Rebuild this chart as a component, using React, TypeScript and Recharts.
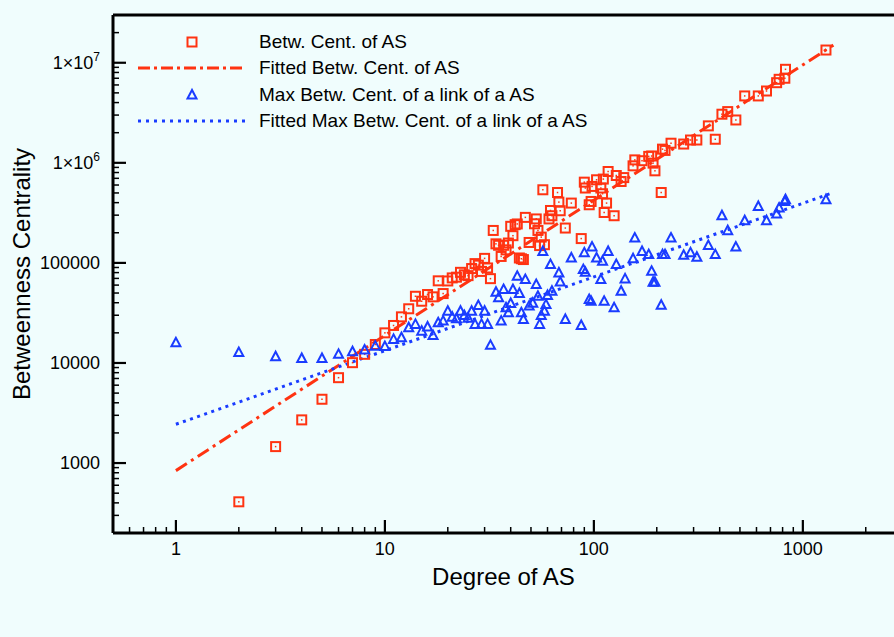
import { ScatterChart, Scatter, XAxis, YAxis, ReferenceLine, Legend } from 'recharts';

// Betweenness centrality of AS vs degree
const asDegree = [
  2, 3, 4, 5, 6, 7, 8, 9, 10, 11, 12, 13, 14, 15, 16, 17, 18, 19, 20, 21, 22, 23, 24, 25, 26, 27, 28, 29, 30,
  31, 32, 33, 34, 35, 36, 37, 38, 39, 40, 41, 42, 43, 44, 45, 46, 47, 49, 52, 53, 54, 55, 56, 57, 58, 61, 62,
  63, 67, 68, 69, 73, 78, 87, 90, 91, 95, 97, 98, 103, 108, 110, 111, 112, 115, 117, 125, 128, 135, 139, 154,
  157, 170, 183, 189, 192, 196, 210, 213, 219, 234, 269, 290, 311, 353, 381, 410, 437, 478, 527, 612, 670,
  749, 770, 820, 826, 1290,
];
const asBetweenness = [
  410, 1460, 2700, 4340, 7130, 10070, 12200, 15300, 20000, 23700, 28900, 34800, 46400, 41400, 48300, 45800,
  66200, 49400, 66000, 70800, 72000, 80500, 76000, 74600, 87800, 98400, 95000, 82200, 111000, 89000, 69600,
  211000, 155000, 150000, 116000, 150000, 135000, 158000, 232000, 187000, 241000, 245000, 112000, 110000,
  108000, 285000, 160000, 246000, 275000, 211000, 149000, 181000, 538000, 152000, 275000, 334000, 296000,
  505000, 405000, 332000, 223000, 396000, 175000, 641000, 560000, 381000, 411000, 581000, 677000, 560000,
  491000, 688000, 319000, 396000, 819000, 296000, 747000, 651000, 712000, 933000, 1070000, 1050000, 1160000,
  1170000, 993000, 832000, 505000, 1370000, 1330000, 1570000, 1540000, 1690000, 1690000, 2340000, 1720000,
  3060000, 3250000, 2680000, 4660000, 4660000, 5220000, 6320000, 6830000, 7000000, 8600000, 13400000,
];

// Max betweenness centrality of a link of an AS vs degree
const linkDegree = [
  1, 2, 3, 4, 5, 6, 7, 8, 9, 10, 11, 12, 13, 14, 15, 16, 17, 18, 19, 20, 21, 22, 23, 24, 25, 26, 27, 28, 29,
  30, 31, 32, 34, 35, 36, 37, 38, 39, 40, 41, 43, 44, 45, 46, 47, 49, 51, 53, 54, 55, 56, 57, 58, 59, 60, 62,
  63, 68, 69, 73, 78, 87, 89, 90, 91, 95, 97, 98, 103, 108, 110, 112, 117, 125, 128, 135, 141, 154, 157, 170,
  183, 189, 192, 196, 210, 213, 219, 234, 269, 290, 311, 353, 381, 410, 437, 478, 527, 612, 670, 749, 770,
  820, 826, 1290,
];
const linkMaxBetweenness = [
  15900, 12700, 11560, 11100, 11100, 12190, 12970, 13450, 14730, 14600, 17200, 17900, 22500, 24300, 20800,
  22900, 18800, 25200, 26200, 32900, 28700, 27700, 32900, 29800, 28000, 32900, 24300, 37500, 24300, 32900,
  24300, 15000, 50900, 44800, 26200, 54200, 35600, 31700, 39300, 54200, 73500, 49500, 31700, 27200, 68200,
  37000, 39600, 60800, 46400, 24300, 29800, 130000, 32900, 38300, 47300, 96200, 52100, 79400, 64500, 27200,
  112000, 23700, 85700, 126000, 80500, 43000, 41300, 144000, 112000, 68200, 104000, 41300, 130000, 35600,
  96200, 52100, 69200, 110000, 177000, 130000, 121000, 82400, 64100, 64000, 37800, 121000, 121000, 177000,
  119000, 126000, 114000, 149000, 121000, 296000, 210000, 144000, 264000, 366000, 264000, 308000, 353000,
  411000, 428000, 428000,
];

// fitted power-law lines (end points)
const fitAsDegree = [1, 1400];
const fitAsBetweenness = [840, 15000000];
const fitLinkDegree = [1, 1400];
const fitLinkBetweenness = [2440, 505000];

const seriesNames = [
  'Betw. Cent. of AS',
  'Fitted Betw. Cent. of AS',
  'Max Betw. Cent. of a link of a AS',
  'Fitted Max Betw. Cent. of a link of a AS',
];

const xTicks = [
  0.6, 0.7, 0.8, 0.9, 1, 2, 3, 4, 5, 6, 7, 8, 9, 10, 20, 30, 40, 50, 60, 70, 80, 90, 100, 200, 300, 400, 500,
  600, 700, 800, 900, 1000, 2000,
];
const xMajorTicks = [1, 10, 100, 1000];
const yTicks = [
  300, 400, 500, 600, 700, 800, 900, 1000, 2000, 3000, 4000, 5000, 6000, 7000, 8000, 9000, 10000, 20000, 30000,
  40000, 50000, 60000, 70000, 80000, 90000, 100000, 200000, 300000, 400000, 500000, 600000, 700000, 800000,
  900000, 1000000, 2000000, 3000000, 4000000, 5000000, 6000000, 7000000, 8000000, 9000000, 10000000, 20000000,
];
const yMajorTicks = [1000, 10000, 100000, 1000000, 10000000];

const RED = '#ff3311';
const BLUE = '#1a3cff';
const BG = '#f0fdfd';
const FONT = '"Liberation Sans", Arial, Helvetica, sans-serif';

const toPoints = (xs: number[], ys: number[]) => xs.map((x, i) => ({ x, y: ys[i] }));

const asData = toPoints(asDegree, asBetweenness);
const linkData = toPoints(linkDegree, linkMaxBetweenness);
const asFit = toPoints(fitAsDegree, fitAsBetweenness);
const linkFit = toPoints(fitLinkDegree, fitLinkBetweenness);

const SquareMark = (props: any) => {
  const { cx, cy } = props;
  return (
    <g>
      <rect x={cx - 4.5} y={cy - 4.5} width={9} height={9} fill="none" stroke={RED} strokeWidth={2} />
      <rect x={cx - 0.75} y={cy - 0.75} width={1.5} height={1.5} fill={RED} />
    </g>
  );
};

const TriangleMark = (props: any) => {
  const { cx, cy } = props;
  return (
    <polygon
      points={`${cx},${cy - 5} ${cx - 4.5},${cy + 3.5} ${cx + 4.5},${cy + 3.5}`}
      fill="none"
      stroke={BLUE}
      strokeWidth={2}
    />
  );
};

const NoMark = () => <g />;

const XTick = (props: any) => {
  const { x, y, payload } = props;
  const major = xMajorTicks.includes(payload.value);
  return (
    <g>
      <line x1={x} x2={x} y1={y} y2={y - (major ? 13 : 6)} stroke="#000" strokeWidth={major ? 2.2 : 1.5} />
      {major && (
        <text x={x} y={y + 22} textAnchor="middle" fontSize={18} fill="#000">
          {payload.value}
        </text>
      )}
    </g>
  );
};

const YTick = (props: any) => {
  const { x, y, payload } = props;
  const v = payload.value;
  const major = yMajorTicks.includes(v);
  let label: any = null;
  if (major) {
    if (v >= 1000000) {
      const exp = Math.round(Math.log10(v));
      label = (
        <text x={x - 13} y={y + 6} textAnchor="end" fontSize={18} fill="#000">
          1×10<tspan dy={-8} fontSize={12}>{exp}</tspan>
        </text>
      );
    } else {
      label = (
        <text x={x - 13} y={y + 6} textAnchor="end" fontSize={18} fill="#000">
          {v}
        </text>
      );
    }
  }
  return (
    <g>
      <line x1={x} x2={x + (major ? 13 : 6)} y1={y} y2={y} stroke="#000" strokeWidth={major ? 2.2 : 1.5} />
      {label}
    </g>
  );
};

const renderLegend = () => {
  const icons = [
    <rect key="s" x={49.5} y={5.5} width={9} height={9} fill="none" stroke={RED} strokeWidth={2} />,
    <line key="l1" x1={0} x2={107} y1={10} y2={10} stroke={RED} strokeWidth={3} strokeDasharray="12 4 3 4" />,
    <polygon key="t" points="54,5 49.5,13.5 58.5,13.5" fill="none" stroke={BLUE} strokeWidth={2} />,
    <line key="l2" x1={0} x2={107} y1={10} y2={10} stroke={BLUE} strokeWidth={3} strokeDasharray="3 5" />,
  ];
  return (
    <div style={{ fontFamily: FONT, fontSize: 19, color: '#000' }}>
      {seriesNames.map((name, i) => (
        <div key={name} style={{ display: 'flex', alignItems: 'center', height: 26.3 }}>
          <svg width={107} height={20}>
            {icons[i]}
          </svg>
          <span style={{ marginLeft: 14, whiteSpace: 'nowrap' }}>{name}</span>
        </div>
      ))}
    </div>
  );
};

export default function App() {
  return (
    <div
      style={{
        position: 'fixed',
        top: 0,
        left: 0,
        width: 894,
        height: 637,
        background: BG,
        fontFamily: FONT,
        overflow: 'hidden',
      }}
    >
      <ScatterChart width={894} height={637} margin={{ top: 15, right: 0, bottom: 0, left: 0 }}>
        <XAxis
          type="number"
          dataKey="x"
          scale="log"
          domain={[0.5, 2730]}
          allowDataOverflow
          ticks={xTicks}
          interval={0}
          tick={XTick}
          tickSize={0}
          tickMargin={0}
          tickLine={false}
          axisLine={{ stroke: '#000', strokeWidth: 3 }}
          height={104}
          label={{ value: 'Degree of AS', position: 'insideBottom', offset: 52, fontSize: 24, fill: '#000' }}
        />
        <YAxis
          type="number"
          dataKey="y"
          scale="log"
          domain={[200, 30000000]}
          allowDataOverflow
          ticks={yTicks}
          interval={0}
          tick={YTick}
          tickSize={0}
          tickMargin={0}
          tickLine={false}
          axisLine={{ stroke: '#000', strokeWidth: 3 }}
          width={113}
          label={{
            value: 'Betweenness Centrality',
            angle: -90,
            position: 'insideLeft',
            offset: 21,
            fontSize: 24,
            fill: '#000',
            style: { textAnchor: 'middle' },
          }}
        />
        <ReferenceLine y={30000000} stroke="#000" strokeWidth={3} />
        <Scatter
          name={seriesNames[1]}
          data={asFit}
          shape={NoMark}
          line={{ stroke: RED, strokeWidth: 3, strokeDasharray: '13 5 3 5' }}
          isAnimationActive={false}
        />
        <Scatter
          name={seriesNames[3]}
          data={linkFit}
          shape={NoMark}
          line={{ stroke: BLUE, strokeWidth: 3, strokeDasharray: '3 4.5' }}
          isAnimationActive={false}
        />
        <Scatter name={seriesNames[0]} data={asData} shape={SquareMark} isAnimationActive={false} />
        <Scatter name={seriesNames[2]} data={linkData} shape={TriangleMark} isAnimationActive={false} />
        <Legend
          layout="horizontal"
          verticalAlign="middle"
          align="center"
          content={renderLegend}
          wrapperStyle={{ top: 29, left: 138, width: 'auto', height: 'auto' }}
        />
      </ScatterChart>
    </div>
  );
}
